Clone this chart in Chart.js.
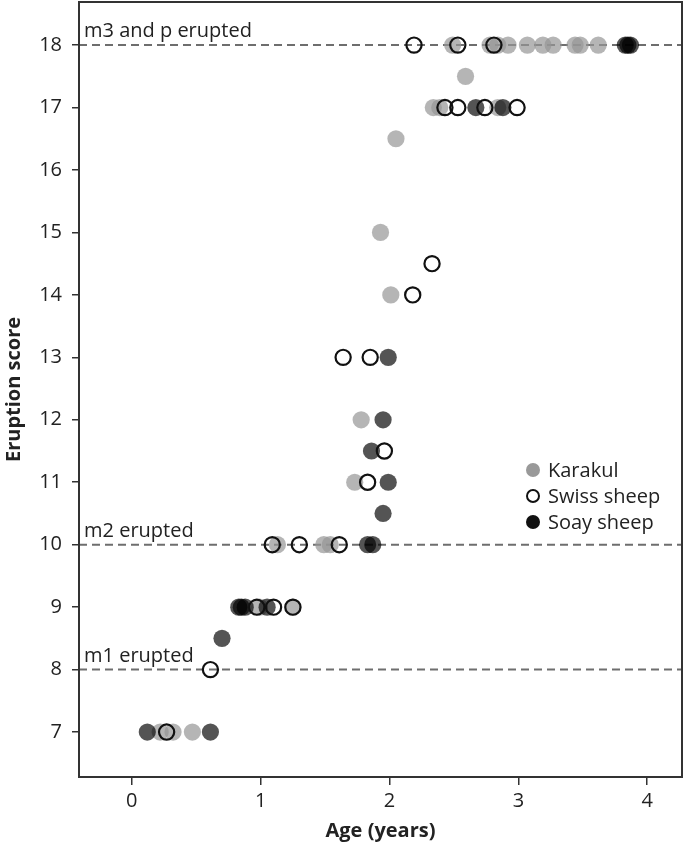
<!DOCTYPE html>
<html>
<head>
<meta charset="utf-8">
<script src="https://cdn.jsdelivr.net/npm/chart.js@4"></script>
<style>
  html, body { margin: 0; padding: 0; background: #fff; }
  #wrap { position: relative; width: 685px; height: 847px; }
</style>
</head>
<body>
<div id="wrap"><canvas id="chart"></canvas></div>
<script>
// Age (years) and eruption score per specimen
const karakulAge = [2.49, 2.78, 2.84, 2.92, 3.07, 3.19, 3.27, 3.44, 3.48, 3.62,
  2.59, 2.34, 2.39, 2.84, 2.05, 1.93, 2.01, 1.78, 1.73,
  1.13, 1.49, 1.54, 0.99, 1.25, 0.22, 0.32, 0.47];
const karakulScore = [18, 18, 18, 18, 18, 18, 18, 18, 18, 18,
  17.5, 17, 17, 17, 16.5, 15, 14, 12, 11,
  10, 10, 10, 9, 9, 7, 7, 7];

const swissAge = [2.19, 2.53, 2.81, 2.43, 2.53, 2.74, 2.99, 2.33, 2.18, 1.64, 1.85,
  1.96, 1.83, 1.09, 1.30, 1.61, 0.97, 1.10, 1.25, 0.61, 0.27];
const swissScore = [18, 18, 18, 17, 17, 17, 17, 14.5, 14, 13, 13,
  11.5, 11, 10, 10, 10, 9, 9, 9, 8, 7];

const soayAge = [3.83, 3.85, 3.87, 2.67, 2.88, 1.99, 1.95, 1.86, 1.99, 1.95,
  1.83, 1.87, 0.83, 0.85, 0.88, 1.05, 0.70, 0.12, 0.61];
const soayScore = [18, 18, 18, 17, 17, 13, 12, 11.5, 11, 10.5,
  10, 10, 9, 9, 9, 9, 8.5, 7, 7];

const xTicks = [0, 1, 2, 3, 4];
const yTicks = [7, 8, 9, 10, 11, 12, 13, 14, 15, 16, 17, 18];

// reference lines
const stageScores = [8, 10, 18];
const stageLabels = ['m1 erupted', 'm2 erupted', 'm3 and p erupted'];

const FONT = "'Open Sans', 'Noto Sans', sans-serif";
const INK = '#222';

const toPoints = (xs, ys) => xs.map((x, i) => ({ x: x, y: ys[i] }));

const stagePlugin = {
  id: 'stages',
  beforeDatasetsDraw(chart) {
    const { ctx, chartArea, scales } = chart;
    ctx.save();
    ctx.strokeStyle = '#6e6e6e';
    ctx.lineWidth = 2;
    ctx.setLineDash([8, 5]);
    ctx.font = '20px ' + FONT;
    ctx.fillStyle = INK;
    ctx.textBaseline = 'alphabetic';
    stageScores.forEach((s, i) => {
      const y = scales.y.getPixelForValue(s);
      ctx.beginPath();
      ctx.moveTo(chartArea.left, y);
      ctx.lineTo(chartArea.right, y);
      ctx.stroke();
      ctx.fillText(stageLabels[i], chartArea.left + 5, y - 8);
    });
    ctx.restore();
  },
  afterDraw(chart) {
    const { ctx, chartArea } = chart;
    ctx.save();
    // box around the plot
    ctx.strokeStyle = '#333';
    ctx.lineWidth = 2;
    ctx.strokeRect(chartArea.left, chartArea.top, chartArea.right - chartArea.left, chartArea.bottom - chartArea.top);

    // legend
    const lx = chartArea.right - 149;
    const ly = chartArea.top + 468;
    const items = [
      { label: 'Karakul', fill: '#999', stroke: null },
      { label: 'Swiss sheep', fill: null, stroke: '#111' },
      { label: 'Soay sheep', fill: '#111', stroke: null }
    ];
    ctx.font = '20px ' + FONT;
    ctx.textBaseline = 'middle';
    items.forEach((it, i) => {
      const y = ly + i * 26;
      ctx.beginPath();
      if (it.fill) {
        ctx.arc(lx, y, 7, 0, Math.PI * 2);
        ctx.fillStyle = it.fill;
        ctx.fill();
      } else {
        ctx.arc(lx, y, 6, 0, Math.PI * 2);
        ctx.strokeStyle = it.stroke;
        ctx.lineWidth = 2;
        ctx.stroke();
      }
      ctx.fillStyle = INK;
      ctx.fillText(it.label, lx + 15, y + 1);
    });
    ctx.restore();
  }
};

new Chart(document.getElementById('chart'), {
  type: 'scatter',
  data: {
    datasets: [
      {
        label: 'Swiss sheep',
        data: toPoints(swissAge, swissScore),
        backgroundColor: 'rgba(0,0,0,0)',
        borderColor: '#111',
        borderWidth: 2.2,
        pointRadius: 7.6,
        order: 1
      },
      {
        label: 'Soay sheep',
        data: toPoints(soayAge, soayScore),
        backgroundColor: 'rgba(0,0,0,0.67)',
        borderWidth: 0,
        pointRadius: 8.6,
        order: 2
      },
      {
        label: 'Karakul',
        data: toPoints(karakulAge, karakulScore),
        backgroundColor: 'rgba(150,150,150,0.7)',
        borderWidth: 0,
        pointRadius: 8.6,
        order: 3
      }
    ]
  },
  options: {
    responsive: true,
    maintainAspectRatio: false,
    animation: false,
    layout: { autoPadding: false, padding: { top: 2, right: 3, left: 0, bottom: 0 } },
    plugins: {
      legend: { display: false },
      tooltip: { enabled: false }
    },
    scales: {
      x: {
        type: 'linear',
        min: -0.41,
        max: 4.27,
        afterBuildTicks: (scale) => { scale.ticks = xTicks.map(v => ({ value: v })); },
        afterFit: (scale) => {
          scale.height = 70;
          scale.paddingLeft = 0;
          scale.paddingRight = 0;
        },
        grid: { drawOnChartArea: false, drawTicks: true, tickLength: 8, color: '#333', lineWidth: 1.5 },
        border: { display: false },
        ticks: { color: INK, padding: 4, font: { family: FONT, size: 20 } },
        title: {
          display: true,
          text: 'Age (years)',
          color: INK,
          padding: { top: 0, bottom: 4 },
          font: { family: FONT, size: 20, weight: 'bold' }
        }
      },
      y: {
        type: 'linear',
        min: 6.28,
        max: 18.69,
        afterBuildTicks: (scale) => { scale.ticks = yTicks.map(v => ({ value: v })); },
        afterFit: (scale) => {
          scale.width = 79;
          scale.paddingTop = 0;
          scale.paddingBottom = 0;
        },
        grid: { drawOnChartArea: false, drawTicks: true, tickLength: 7, color: '#333', lineWidth: 1.5 },
        border: { display: false },
        ticks: { color: INK, padding: 10, font: { family: FONT, size: 20 } },
        title: {
          display: true,
          text: 'Eruption score',
          color: INK,
          padding: { top: 2, bottom: 0 },
          font: { family: FONT, size: 20, weight: 'bold' }
        }
      }
    }
  },
  plugins: [stagePlugin]
});
</script>
</body>
</html>
